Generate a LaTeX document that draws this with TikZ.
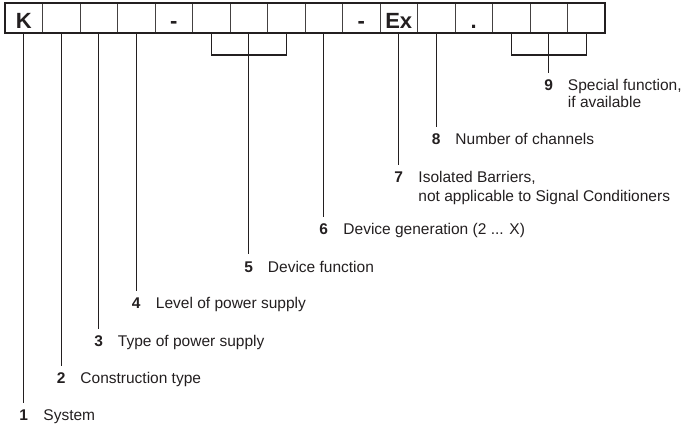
\documentclass[tikz,border=0pt]{standalone}
\usepackage{fontspec}
\setmainfont{Liberation Sans}
\definecolor{ink}{HTML}{231F20}
\begin{document}
\begin{tikzpicture}[x=1pt,y=-1pt,
  cell/.style={draw=ink!85, line width=0.7pt, minimum width=37.5pt, minimum height=30pt, inner sep=0pt},
  big/.style={font=\fontsize{22}{24}\selectfont\bfseries, text=ink, anchor=base, inner sep=0pt},
  num/.style={font=\fontsize{15.5}{18}\selectfont\bfseries, text=ink, anchor=base, inner sep=0pt},
  lab/.style={font=\fontsize{15.5}{18}\selectfont, text=ink, anchor=base west, inner sep=0pt},
  conn/.style={draw=ink, line width=1.2pt}]
\useasboundingbox (0,0) rectangle (684,427);
% cells
\foreach \i in {1,...,16} {
  \node[cell] (c\i) at ({5+37.5*(\i-0.5)},18) {};
}
\draw[ink, line width=1.8pt] (c1.north west) rectangle (c16.south east);
% cell texts
\node[big] (tK) at (c1 |- 0,28.3) {K};
\node[big] (tD1) at (c5 |- 0,28.3) {-};
\node[big] (tD2) at (c10 |- 0,28.3) {-};
\node[big] (tEx) at (c11 |- 0,28.3) {Ex};
\node[big] (tDot) at (c13 |- 0,28.3) {.};
% bracket joins
\coordinate (b5) at (c6 |- 0,55);
\coordinate (b5r) at (c8 |- 0,55);
\coordinate (b9) at (c14 |- 0,55);
\coordinate (b9r) at (c16 |- 0,55);
\draw[conn] (c6.south) -- (b5) -- (b5r) -- (c8.south);
\draw[conn] (c14.south) -- (b9) -- (b9r) -- (c16.south);
% line ends
\coordinate (e1) at (c1 |- 0,403);
\coordinate (e2) at (c2 |- 0,366);
\coordinate (e3) at (c3 |- 0,329);
\coordinate (e4) at (c4 |- 0,291);
\coordinate (e5) at (c7 |- 0,254);
\coordinate (e6) at (c9 |- 0,217);
\coordinate (e7) at (c11 |- 0,165);
\coordinate (e8) at (c12 |- 0,127);
\coordinate (e9) at (c15 |- 0,73);
\draw[conn] (c1.south) -- (e1);
\draw[conn] (c2.south) -- (e2);
\draw[conn] (c3.south) -- (e3);
\draw[conn] (c4.south) -- (e4);
\draw[conn] (c7.south) -- (e5);
\draw[conn] (c9.south) -- (e6);
\draw[conn] (c11.south) -- (e7);
\draw[conn] (c12.south) -- (e8);
\draw[conn] (c15.south) -- (e9);
% labels
\node[num] (n1) at (c1 |- 0,420.5) {1};
\node[lab] (l1) at ([xshift=19.5pt]n1.base) {System};
\node[num] (n2) at (c2 |- 0,383.5) {2};
\node[lab] (l2) at ([xshift=19pt]n2.base) {Construction type};
\node[num] (n3) at (c3 |- 0,346.5) {3};
\node[lab] (l3) at ([xshift=19pt]n3.base) {Type of power supply};
\node[num] (n4) at (c4 |- 0,308.5) {4};
\node[lab] (l4) at ([xshift=19.5pt]n4.base) {Level of power supply};
\node[num] (n5) at (c7 |- 0,272.5) {5};
\node[lab] (l5) at ([xshift=19pt]n5.base) {Device function};
\node[num] (n6) at (c9 |- 0,234.5) {6};
\node[lab] (l6) at ([xshift=19.5pt]n6.base) {Device generation (2 ... X)};
\node[num] (n7) at (c11 |- 0,182.5) {7};
\node[lab] (l7) at ([xshift=19.5pt]n7.base) {Isolated Barriers,};
\node[lab] (l7b) at ([yshift=-19pt]l7.base west) {not applicable to Signal Conditioners};
\node[num] (n8) at (c12 |- 0,144.5) {8};
\node[lab] (l8) at ([xshift=19pt]n8.base) {Number of channels};
\node[num] (n9) at (c15 |- 0,90.5) {9};
\node[lab] (l9) at ([xshift=19pt]n9.base) {Special function,};
\node[lab] (l9b) at ([yshift=-17pt]l9.base west) {if available};
\end{tikzpicture}
\end{document}
